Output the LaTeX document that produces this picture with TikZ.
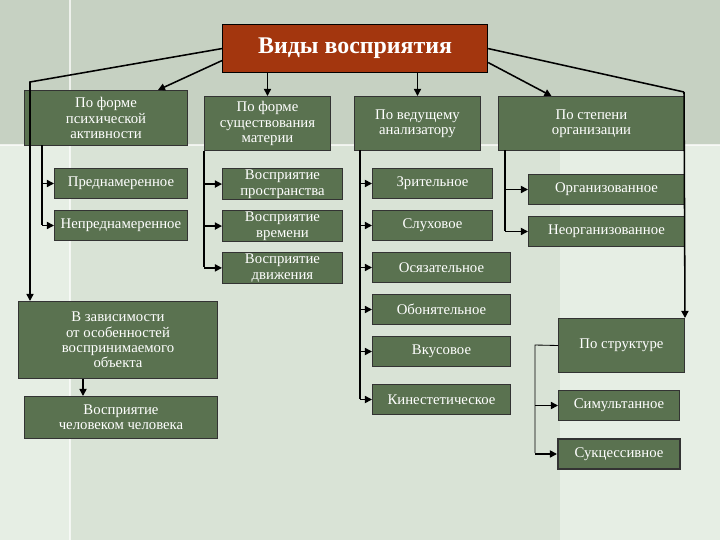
\documentclass[tikz,border=0pt]{standalone}
\usepackage{fontspec}
\setmainfont{Liberation Serif}
\usetikzlibrary{arrows.meta}
\definecolor{bgA}{HTML}{C6D1C2}
\definecolor{bgB}{HTML}{D9E3D6}
\definecolor{bgC}{HTML}{E6EEE4}
\definecolor{boxg}{HTML}{5A7250}
\definecolor{titl}{HTML}{A3360E}
\begin{document}
\begin{tikzpicture}[x=0.025cm,y=-0.025cm,
  bx/.style={draw=black!80,line width=0.7pt,fill=boxg,text=white,align=center,inner sep=1pt,font=\fontsize{10.5}{11}\selectfont},
  ar/.style={line width=1.1pt,-{Triangle[length=5pt,width=5pt]}},
  ln/.style={line width=1.1pt}]
\useasboundingbox (0,0) rectangle (720,540);
\fill[bgB] (0,0) rectangle (720,540);
\fill[bgA] (0,0) rectangle (720,145);
\fill[bgC] (0,145) rectangle (70,540);
\fill[bgC] (560,145) rectangle (720,540);
\draw[white,line width=1.5pt,opacity=0.7] (70,0)--(70,540);
\draw[white,line width=1.5pt,opacity=0.7] (0,145)--(720,145);
% nodes
\node[draw=black,line width=0.8pt,fill=titl,text=white,font=\fontsize{17}{18}\selectfont\bfseries,anchor=north west,minimum width=6.625cm,minimum height=1.2cm] (t) at (222,24) {Виды восприятия};
\newcommand\bb[6]{\node[bx,anchor=north west,minimum width=#3*0.025cm,minimum height=#4*0.025cm,#6] (#1) at (#2) {#5};}
\bb{a}{24,90}{163}{55}{По форме\\психической\\активности}{}
\bb{b}{204,96}{126}{54}{По форме\\существования\\материи}{}
\bb{c}{354,96}{126}{54}{По ведущему\\анализатору}{}
\bb{d}{498,96}{186}{54}{По степени\\организации}{}
\bb{a1}{54,168}{133}{30}{Преднамеренное}{}
\bb{a2}{54,210}{133}{30}{Непреднамеренное}{}
\bb{b1}{222,168}{120}{30}{Восприятие\\пространства}{}
\bb{b2}{222,210}{120}{30}{Восприятие\\времени}{}
\bb{b3}{222,252}{120}{30}{Восприятие\\движения}{}
\bb{c1}{372,168}{120}{30}{Зрительное}{}
\bb{c2}{372,210}{120}{30}{Слуховое}{}
\bb{c3}{372,252}{138}{30}{Осязательное}{}
\bb{c4}{372,294}{138}{30}{Обонятельное}{}
\bb{c5}{372,336}{138}{30}{Вкусовое}{}
\bb{c6}{372,384}{138}{30}{Кинестетическое}{}
\bb{d1}{528,174}{156}{30}{Организованное}{}
\bb{d2}{528,216}{156}{30}{Неорганизованное}{}
\bb{e}{18,301}{199}{77}{В зависимости\\от особенностей\\воспринимаемого\\объекта}{}
\bb{e1}{24,396}{193}{42}{Восприятие\\человеком человека}{}
\bb{s}{558,318}{126}{54}{По структуре}{}
\bb{s1}{558,390}{121}{30}{Симультанное}{}
\bb{s2}{557,438}{122}{30}{Сукцессивное}{line width=1.4pt}
% connectors from title
\coordinate (tl) at (30,82);
\draw[ar] (t.west) -- (tl) -- (e.north west -| tl);
\draw[ar] ([yshift=-12*0.025cm]t.west) -- ([xshift=-30*0.025cm]a.north east);
\draw[ar] (t.south -| b.north) -- (b.north);
\draw[ar] (t.south -| c.north) -- (c.north);
\draw[ar] ([yshift=-14*0.025cm]t.east) -- ([xshift=-40*0.025cm]d.north);
\coordinate (tr) at (684,92);
\draw[ln] (t.east) -- (tr);
\draw[ar] (tr) -- (s.north east);
\draw[ar] (e.south -| 83,0) -- (e1.north -| 83,0);
% brackets
\draw[ln] (42,145) -- (42,225);
\foreach \n in {a1,a2} \draw[ar] (42,0 |- \n.west) -- (\n.west);
\draw[ln] (b.south west) -- (204,267);
\foreach \n in {b1,b2,b3} \draw[ar] (b.south west |- \n.west) -- (\n.west);
\draw[ln] (360,150) -- (360,399);
\foreach \n in {c1,c2,c3,c4,c5,c6} \draw[ar] (360,0 |- \n.west) -- (\n.west);
\draw[ln] (505,150) -- (505,231);
\foreach \n in {d1,d2} \draw[ar] (505,0 |- \n.west) -- (\n.west);
\draw[line width=0.6pt] (s.west) -- (535,345) -- (535,453);
\foreach \n in {s1,s2} \draw[ar] (535,0 |- \n.west) -- (\n.west);
\end{tikzpicture}
\end{document}
